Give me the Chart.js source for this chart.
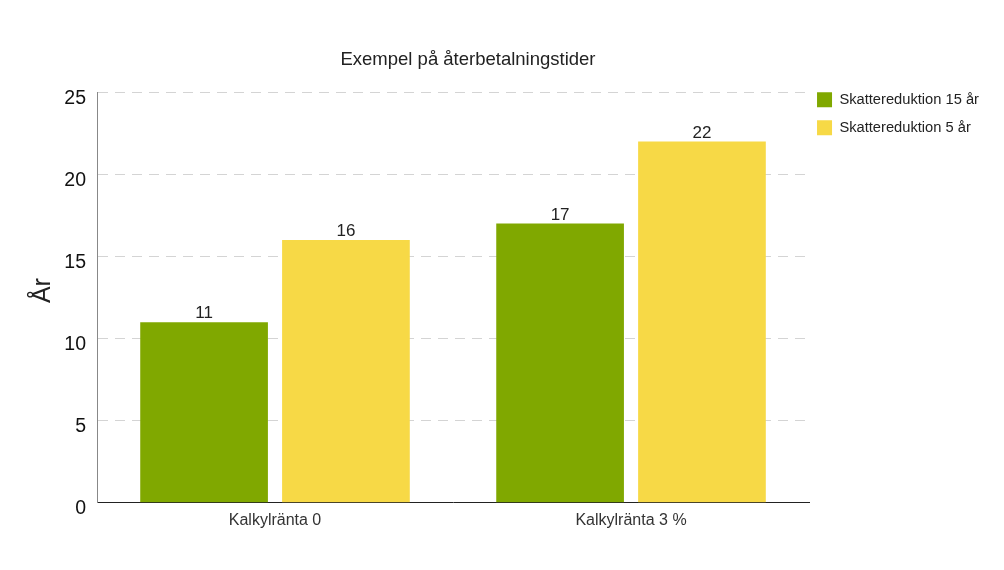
<!DOCTYPE html>
<html>
<head>
<meta charset="utf-8">
<script src="https://cdn.jsdelivr.net/npm/chart.js@4"></script>
<style>
  body { margin: 0; background: #fff; }
</style>
</head>
<body>
<canvas id="grafico" width="1004" height="570"></canvas>
<script>
var kategorier = ["Kalkylränta 0", "Kalkylränta 3 %"];
var serieNamn = ["Skattereduktion 15 år", "Skattereduktion 5 år"];
var skatt15 = [11, 17];
var skatt5 = [16, 22];
var farger = ["#80a800", "#f7d946"];
var yTicks = [0, 5, 10, 15, 20, 25];

var fontFamily = "'Liberation Sans', Arial, Helvetica, sans-serif";

// skriver värdet ovanför varje stapel
var staplarEtiketter = {
  id: "staplarEtiketter",
  afterDatasetsDraw: function (chart) {
    var ctx = chart.ctx;
    ctx.save();
    ctx.font = "17px " + fontFamily;
    ctx.fillStyle = "#222";
    ctx.textAlign = "center";
    ctx.textBaseline = "bottom";
    chart.data.datasets.forEach(function (ds, i) {
      chart.getDatasetMeta(i).data.forEach(function (bar, j) {
        ctx.fillText(ds.data[j], bar.x, bar.y);
      });
    });
    ctx.restore();
  }
};

// flyttar titel och legend lite
var justering = {
  id: "justering",
  afterLayout: function (chart) {
    var t = chart.titleBlock;
    t.left = 0; t.right = 936; t.width = 936;
    var l = chart.legend;
    l.top = l.top - 13;
    l.left = l.left - 5;
  }
};

var ctx = document.getElementById("grafico").getContext("2d");
var grafico = new Chart(ctx, {
  type: "bar",
  data: {
    labels: kategorier,
    datasets: [
      { label: serieNamn[0], data: skatt15, backgroundColor: farger[0] },
      { label: serieNamn[1], data: skatt5, backgroundColor: farger[1] }
    ]
  },
  options: {
    responsive: false,
    animation: false,
    categoryPercentage: 0.797,
    barPercentage: 0.9,
    layout: { padding: { left: 0, right: 10, top: 0, bottom: 31 } },
    plugins: {
      title: {
        display: true,
        text: "Exempel på återbetalningstider",
        color: "#222",
        font: { family: fontFamily, size: 18.5, weight: "normal" },
        padding: { top: 49, bottom: 21 }
      },
      legend: {
        position: "right",
        align: "start",
        fullSize: false,
        labels: {
          boxWidth: 15,
          boxHeight: 15,
          padding: 13,
          color: "#222",
          font: { family: fontFamily, size: 14.7 }
        }
      },
      tooltip: { enabled: false }
    },
    scales: {
      x: {
        grid: { display: false, drawTicks: false },
        border: { display: true, color: "#222", width: 1 },
        ticks: { color: "#333", padding: 8.5, font: { family: fontFamily, size: 16 } }
      },
      y: {
        min: 0,
        max: 25,
        afterFit: function (scale) { scale.width = 97; },
        afterBuildTicks: function (scale) {
          scale.ticks = yTicks.map(function (v) { return { value: v }; });
        },
        grid: { color: "rgba(0,0,0,0.17)", drawTicks: false },
        border: { display: true, color: "#888", width: 1, dash: [10, 7] },
        ticks: {
          color: "#111",
          padding: 11,
          labelOffset: 6,
          font: { family: fontFamily, size: 19.5 }
        },
        title: {
          display: true,
          text: "  År",
          color: "#222",
          font: { family: fontFamily, size: 25 },
          padding: { top: 28, bottom: 0 }
        }
      }
    }
  },
  plugins: [staplarEtiketter, justering]
});
</script>
</body>
</html>
